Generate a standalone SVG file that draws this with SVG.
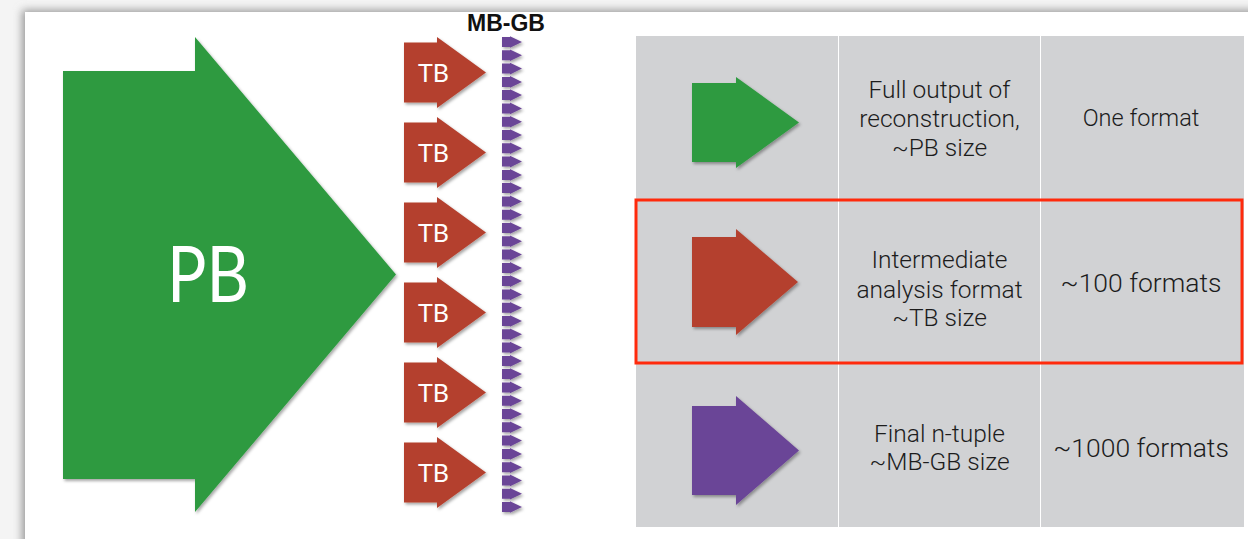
<svg xmlns="http://www.w3.org/2000/svg" xmlns:xlink="http://www.w3.org/1999/xlink" width="1248" height="539" viewBox="0 0 1248 539">
  <defs>
    <style>
      .green { fill: #2e9a40; }
      .red { fill: #b4412f; }
      .purple { fill: #6b4597; }
      .cell { fill: #d1d2d4; }
      .sep { stroke: #ffffff; stroke-width: 1; }
      .hl { fill: none; stroke: #ff2a0c; stroke-width: 3; }
      .lbl { font-family: "Lato", "Open Sans", "DejaVu Sans", sans-serif; fill: #ffffff; text-anchor: middle; }
      .tt { font-family: "Roboto", "Liberation Sans", "DejaVu Sans", sans-serif; font-weight: 300; fill: #1c1c1c; text-anchor: middle; }
      .hd { font-family: "Liberation Sans", "DejaVu Sans", sans-serif; font-weight: bold; fill: #111111; text-anchor: middle; }
    </style>
    <filter id="sh" x="-10%" y="-10%" width="130%" height="130%">
      <feDropShadow dx="1.5" dy="2" stdDeviation="1.5" flood-color="#000000" flood-opacity="0.35"/>
    </filter>
    <filter id="slideSh" x="-5%" y="-5%" width="110%" height="110%">
      <feGaussianBlur stdDeviation="4"/>
    </filter>
    <path id="tbArrow" d="M404,-30 H437 V-35.5 L486,0 L437,35.5 V30 H404 Z"/>
    <path id="sa" d="M502,-5 H510 V-5.8 L522,0 L510,5.8 V5 H502 Z"/>
  </defs>

  <!-- page background and slide -->
  <rect x="0" y="0" width="1248" height="539" fill="#f4f4f4"/>
  <rect x="22" y="10" width="1240" height="540" fill="#9a9a9a" filter="url(#slideSh)"/>
  <rect x="25" y="12" width="1240" height="540" fill="#ffffff"/>

  <!-- big PB arrow -->
  <g id="node-pb">
    <path class="green" filter="url(#sh)" d="M63,71 H195 V37 L396,274.5 L195,512 V479 H63 Z"/>
    <text class="lbl" x="208" y="302" font-size="77" textLength="82" lengthAdjust="spacingAndGlyphs">PB</text>
  </g>

  <!-- TB arrows -->
  <g id="node-tb1">
    <use xlink:href="#tbArrow" href="#tbArrow" class="red" filter="url(#sh)" y="72.5"/>
    <text class="lbl" x="433.5" y="81.5" font-size="25">TB</text>
  </g>
  <g id="node-tb2">
    <use xlink:href="#tbArrow" href="#tbArrow" class="red" filter="url(#sh)" y="152.5"/>
    <text class="lbl" x="433.5" y="161.5" font-size="25">TB</text>
  </g>
  <g id="node-tb3">
    <use xlink:href="#tbArrow" href="#tbArrow" class="red" filter="url(#sh)" y="232.5"/>
    <text class="lbl" x="433.5" y="241.5" font-size="25">TB</text>
  </g>
  <g id="node-tb4">
    <use xlink:href="#tbArrow" href="#tbArrow" class="red" filter="url(#sh)" y="312.5"/>
    <text class="lbl" x="433.5" y="321.5" font-size="25">TB</text>
  </g>
  <g id="node-tb5">
    <use xlink:href="#tbArrow" href="#tbArrow" class="red" filter="url(#sh)" y="392.5"/>
    <text class="lbl" x="433.5" y="401.5" font-size="25">TB</text>
  </g>
  <g id="node-tb6">
    <use xlink:href="#tbArrow" href="#tbArrow" class="red" filter="url(#sh)" y="472.5"/>
    <text class="lbl" x="433.5" y="481.5" font-size="25">TB</text>
  </g>

  <!-- MB-GB column -->
  <g id="node-mbgb">
    <text class="hd" x="506" y="31" font-size="23">MB-GB</text>
    <g class="purple" filter="url(#sh)">
      <use href="#sa" xlink:href="#sa" y="42.0"/>
      <use href="#sa" xlink:href="#sa" y="55.3"/>
      <use href="#sa" xlink:href="#sa" y="68.6"/>
      <use href="#sa" xlink:href="#sa" y="81.9"/>
      <use href="#sa" xlink:href="#sa" y="95.1"/>
      <use href="#sa" xlink:href="#sa" y="108.4"/>
      <use href="#sa" xlink:href="#sa" y="121.7"/>
      <use href="#sa" xlink:href="#sa" y="135.0"/>
      <use href="#sa" xlink:href="#sa" y="148.3"/>
      <use href="#sa" xlink:href="#sa" y="161.6"/>
      <use href="#sa" xlink:href="#sa" y="174.9"/>
      <use href="#sa" xlink:href="#sa" y="188.1"/>
      <use href="#sa" xlink:href="#sa" y="201.4"/>
      <use href="#sa" xlink:href="#sa" y="214.7"/>
      <use href="#sa" xlink:href="#sa" y="228.0"/>
      <use href="#sa" xlink:href="#sa" y="241.3"/>
      <use href="#sa" xlink:href="#sa" y="254.6"/>
      <use href="#sa" xlink:href="#sa" y="267.9"/>
      <use href="#sa" xlink:href="#sa" y="281.1"/>
      <use href="#sa" xlink:href="#sa" y="294.4"/>
      <use href="#sa" xlink:href="#sa" y="307.7"/>
      <use href="#sa" xlink:href="#sa" y="321.0"/>
      <use href="#sa" xlink:href="#sa" y="334.3"/>
      <use href="#sa" xlink:href="#sa" y="347.6"/>
      <use href="#sa" xlink:href="#sa" y="360.9"/>
      <use href="#sa" xlink:href="#sa" y="374.1"/>
      <use href="#sa" xlink:href="#sa" y="387.4"/>
      <use href="#sa" xlink:href="#sa" y="400.7"/>
      <use href="#sa" xlink:href="#sa" y="414.0"/>
      <use href="#sa" xlink:href="#sa" y="427.3"/>
      <use href="#sa" xlink:href="#sa" y="440.6"/>
      <use href="#sa" xlink:href="#sa" y="453.9"/>
      <use href="#sa" xlink:href="#sa" y="467.2"/>
      <use href="#sa" xlink:href="#sa" y="480.4"/>
      <use href="#sa" xlink:href="#sa" y="493.7"/>
      <use href="#sa" xlink:href="#sa" y="507.0"/>
    </g>
  </g>

  <!-- legend table -->
  <g id="node-table">
    <rect class="cell" x="636" y="36" width="608" height="491"/>
    <line class="sep" x1="838.5" y1="36" x2="838.5" y2="527"/>
    <line class="sep" x1="1040.5" y1="36" x2="1040.5" y2="527"/>
  </g>

  <g id="node-row1">
    <path class="green" filter="url(#sh)" d="M692,83 H736 V77 L799,122.5 L736,168 V162 H692 Z"/>
    <text class="tt" x="939.5" y="98" font-size="24.5">Full output of</text>
    <text class="tt" x="939.5" y="127" font-size="24.5">reconstruction,</text>
    <text class="tt" x="939.5" y="156" font-size="24.5">~PB size</text>
    <text class="tt" x="1141" y="126" font-size="23.5">One format</text>
  </g>

  <g id="node-row2">
    <path class="red" filter="url(#sh)" d="M692,237 H736 V229 L798,282 L736,335 V327 H692 Z"/>
    <text class="tt" x="939.5" y="268" font-size="24.5">Intermediate</text>
    <text class="tt" x="939.5" y="297.5" font-size="24.5">analysis format</text>
    <text class="tt" x="939.5" y="326" font-size="24.5">~TB size</text>
    <text class="tt" x="1141" y="292" font-size="26.5">~100 formats</text>
    <rect class="hl" x="636" y="200" width="606" height="163"/>
  </g>

  <g id="node-row3">
    <path class="purple" filter="url(#sh)" d="M692,406 H736 V396 L799,450.5 L736,505 V495 H692 Z"/>
    <text class="tt" x="939.5" y="441.5" font-size="24.5">Final n-tuple</text>
    <text class="tt" x="939.5" y="470" font-size="24.5">~MB-GB size</text>
    <text class="tt" x="1141" y="457" font-size="26.5">~1000 formats</text>
  </g>

  <g id="connectors"></g>
</svg>
